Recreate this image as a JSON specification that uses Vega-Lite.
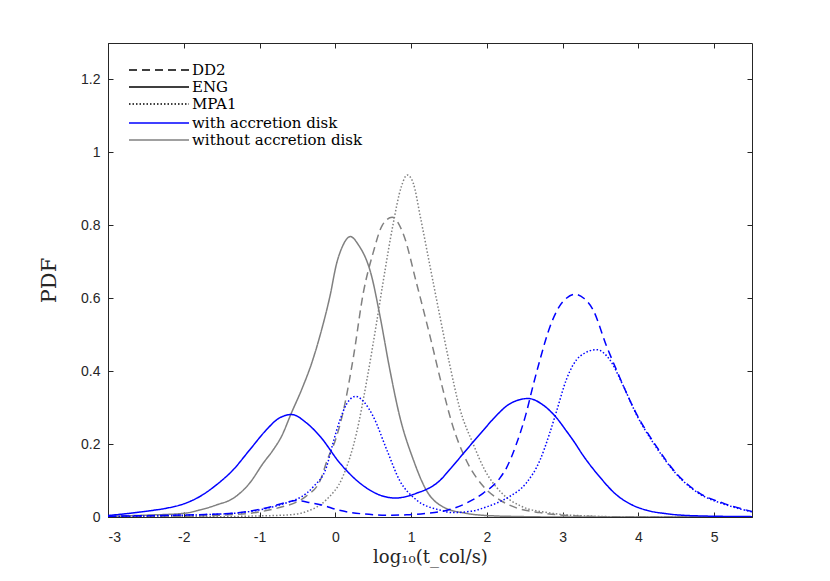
{
  "$schema": "https://vega.github.io/schema/vega-lite/v6.json",
  "width": 644,
  "height": 474,
  "autosize": "none",
  "padding": {"left": 108, "top": 43, "right": 78, "bottom": 64},
  "background": "white",
  "data": {
    "values": [
      {"x": -3, "y": 0.002, "eos": "ENG", "disk": "without accretion disk"},
      {"x": -2.5, "y": 0.005, "eos": "ENG", "disk": "without accretion disk"},
      {"x": -2.0, "y": 0.010, "eos": "ENG", "disk": "without accretion disk"},
      {"x": -1.79, "y": 0.019, "eos": "ENG", "disk": "without accretion disk"},
      {"x": -1.57, "y": 0.033, "eos": "ENG", "disk": "without accretion disk"},
      {"x": -1.35, "y": 0.051, "eos": "ENG", "disk": "without accretion disk"},
      {"x": -1.13, "y": 0.093, "eos": "ENG", "disk": "without accretion disk"},
      {"x": -0.95, "y": 0.148, "eos": "ENG", "disk": "without accretion disk"},
      {"x": -0.82, "y": 0.184, "eos": "ENG", "disk": "without accretion disk"},
      {"x": -0.71, "y": 0.221, "eos": "ENG", "disk": "without accretion disk"},
      {"x": -0.58, "y": 0.285, "eos": "ENG", "disk": "without accretion disk"},
      {"x": -0.445, "y": 0.349, "eos": "ENG", "disk": "without accretion disk"},
      {"x": -0.31, "y": 0.423, "eos": "ENG", "disk": "without accretion disk"},
      {"x": -0.18, "y": 0.514, "eos": "ENG", "disk": "without accretion disk"},
      {"x": -0.07, "y": 0.606, "eos": "ENG", "disk": "without accretion disk"},
      {"x": 0.017, "y": 0.695, "eos": "ENG", "disk": "without accretion disk"},
      {"x": 0.09, "y": 0.740, "eos": "ENG", "disk": "without accretion disk"},
      {"x": 0.2, "y": 0.769, "eos": "ENG", "disk": "without accretion disk"},
      {"x": 0.3, "y": 0.748, "eos": "ENG", "disk": "without accretion disk"},
      {"x": 0.48, "y": 0.66, "eos": "ENG", "disk": "without accretion disk"},
      {"x": 0.59, "y": 0.551, "eos": "ENG", "disk": "without accretion disk"},
      {"x": 0.72, "y": 0.404, "eos": "ENG", "disk": "without accretion disk"},
      {"x": 0.85, "y": 0.276, "eos": "ENG", "disk": "without accretion disk"},
      {"x": 1.03, "y": 0.157, "eos": "ENG", "disk": "without accretion disk"},
      {"x": 1.2, "y": 0.074, "eos": "ENG", "disk": "without accretion disk"},
      {"x": 1.42, "y": 0.028, "eos": "ENG", "disk": "without accretion disk"},
      {"x": 1.73, "y": 0.010, "eos": "ENG", "disk": "without accretion disk"},
      {"x": 2.0, "y": 0.004, "eos": "ENG", "disk": "without accretion disk"},
      {"x": 2.5, "y": 0.001, "eos": "ENG", "disk": "without accretion disk"},
      {"x": 3.0, "y": 0.0, "eos": "ENG", "disk": "without accretion disk"},
      {"x": 5.5, "y": 0.0, "eos": "ENG", "disk": "without accretion disk"},

      {"x": -3, "y": 0.0005, "eos": "DD2", "disk": "without accretion disk"},
      {"x": -2.0, "y": 0.002, "eos": "DD2", "disk": "without accretion disk"},
      {"x": -1.5, "y": 0.005, "eos": "DD2", "disk": "without accretion disk"},
      {"x": -1.0, "y": 0.014, "eos": "DD2", "disk": "without accretion disk"},
      {"x": -0.7, "y": 0.028, "eos": "DD2", "disk": "without accretion disk"},
      {"x": -0.5, "y": 0.042, "eos": "DD2", "disk": "without accretion disk"},
      {"x": -0.38, "y": 0.058, "eos": "DD2", "disk": "without accretion disk"},
      {"x": -0.2, "y": 0.10, "eos": "DD2", "disk": "without accretion disk"},
      {"x": -0.1, "y": 0.16, "eos": "DD2", "disk": "without accretion disk"},
      {"x": 0.0, "y": 0.21, "eos": "DD2", "disk": "without accretion disk"},
      {"x": 0.1, "y": 0.285, "eos": "DD2", "disk": "without accretion disk"},
      {"x": 0.24, "y": 0.44, "eos": "DD2", "disk": "without accretion disk"},
      {"x": 0.37, "y": 0.615, "eos": "DD2", "disk": "without accretion disk"},
      {"x": 0.5, "y": 0.725, "eos": "DD2", "disk": "without accretion disk"},
      {"x": 0.62, "y": 0.8, "eos": "DD2", "disk": "without accretion disk"},
      {"x": 0.75, "y": 0.822, "eos": "DD2", "disk": "without accretion disk"},
      {"x": 0.9, "y": 0.775, "eos": "DD2", "disk": "without accretion disk"},
      {"x": 1.07, "y": 0.643, "eos": "DD2", "disk": "without accretion disk"},
      {"x": 1.25, "y": 0.496, "eos": "DD2", "disk": "without accretion disk"},
      {"x": 1.42, "y": 0.35, "eos": "DD2", "disk": "without accretion disk"},
      {"x": 1.55, "y": 0.25, "eos": "DD2", "disk": "without accretion disk"},
      {"x": 1.73, "y": 0.155, "eos": "DD2", "disk": "without accretion disk"},
      {"x": 1.95, "y": 0.085, "eos": "DD2", "disk": "without accretion disk"},
      {"x": 2.17, "y": 0.047, "eos": "DD2", "disk": "without accretion disk"},
      {"x": 2.39, "y": 0.025, "eos": "DD2", "disk": "without accretion disk"},
      {"x": 2.7, "y": 0.012, "eos": "DD2", "disk": "without accretion disk"},
      {"x": 3.0, "y": 0.005, "eos": "DD2", "disk": "without accretion disk"},
      {"x": 3.5, "y": 0.001, "eos": "DD2", "disk": "without accretion disk"},
      {"x": 4.0, "y": 0.0, "eos": "DD2", "disk": "without accretion disk"},
      {"x": 5.5, "y": 0.0, "eos": "DD2", "disk": "without accretion disk"},

      {"x": -3, "y": 0.0, "eos": "MPA1", "disk": "without accretion disk"},
      {"x": -1.5, "y": 0.001, "eos": "MPA1", "disk": "without accretion disk"},
      {"x": -1.0, "y": 0.003, "eos": "MPA1", "disk": "without accretion disk"},
      {"x": -0.6, "y": 0.006, "eos": "MPA1", "disk": "without accretion disk"},
      {"x": -0.38, "y": 0.015, "eos": "MPA1", "disk": "without accretion disk"},
      {"x": -0.12, "y": 0.047, "eos": "MPA1", "disk": "without accretion disk"},
      {"x": 0.1, "y": 0.111, "eos": "MPA1", "disk": "without accretion disk"},
      {"x": 0.28, "y": 0.23, "eos": "MPA1", "disk": "without accretion disk"},
      {"x": 0.41, "y": 0.368, "eos": "MPA1", "disk": "without accretion disk"},
      {"x": 0.545, "y": 0.533, "eos": "MPA1", "disk": "without accretion disk"},
      {"x": 0.63, "y": 0.643, "eos": "MPA1", "disk": "without accretion disk"},
      {"x": 0.76, "y": 0.80, "eos": "MPA1", "disk": "without accretion disk"},
      {"x": 0.87, "y": 0.905, "eos": "MPA1", "disk": "without accretion disk"},
      {"x": 0.95, "y": 0.938, "eos": "MPA1", "disk": "without accretion disk"},
      {"x": 1.03, "y": 0.915, "eos": "MPA1", "disk": "without accretion disk"},
      {"x": 1.12, "y": 0.826, "eos": "MPA1", "disk": "without accretion disk"},
      {"x": 1.25, "y": 0.688, "eos": "MPA1", "disk": "without accretion disk"},
      {"x": 1.38, "y": 0.551, "eos": "MPA1", "disk": "without accretion disk"},
      {"x": 1.51, "y": 0.418, "eos": "MPA1", "disk": "without accretion disk"},
      {"x": 1.64, "y": 0.30, "eos": "MPA1", "disk": "without accretion disk"},
      {"x": 1.82, "y": 0.20, "eos": "MPA1", "disk": "without accretion disk"},
      {"x": 1.97, "y": 0.13, "eos": "MPA1", "disk": "without accretion disk"},
      {"x": 2.2, "y": 0.065, "eos": "MPA1", "disk": "without accretion disk"},
      {"x": 2.45, "y": 0.03, "eos": "MPA1", "disk": "without accretion disk"},
      {"x": 2.8, "y": 0.012, "eos": "MPA1", "disk": "without accretion disk"},
      {"x": 3.3, "y": 0.003, "eos": "MPA1", "disk": "without accretion disk"},
      {"x": 4.0, "y": 0.0, "eos": "MPA1", "disk": "without accretion disk"},
      {"x": 5.5, "y": 0.0, "eos": "MPA1", "disk": "without accretion disk"},

      {"x": -3, "y": 0.004, "eos": "ENG", "disk": "with accretion disk"},
      {"x": -2.45, "y": 0.017, "eos": "ENG", "disk": "with accretion disk"},
      {"x": -2.23, "y": 0.024, "eos": "ENG", "disk": "with accretion disk"},
      {"x": -2.0, "y": 0.036, "eos": "ENG", "disk": "with accretion disk"},
      {"x": -1.79, "y": 0.056, "eos": "ENG", "disk": "with accretion disk"},
      {"x": -1.57, "y": 0.088, "eos": "ENG", "disk": "with accretion disk"},
      {"x": -1.35, "y": 0.129, "eos": "ENG", "disk": "with accretion disk"},
      {"x": -1.13, "y": 0.184, "eos": "ENG", "disk": "with accretion disk"},
      {"x": -0.91, "y": 0.239, "eos": "ENG", "disk": "with accretion disk"},
      {"x": -0.75, "y": 0.27, "eos": "ENG", "disk": "with accretion disk"},
      {"x": -0.577, "y": 0.281, "eos": "ENG", "disk": "with accretion disk"},
      {"x": -0.38, "y": 0.258, "eos": "ENG", "disk": "with accretion disk"},
      {"x": -0.2, "y": 0.221, "eos": "ENG", "disk": "with accretion disk"},
      {"x": 0.06, "y": 0.148, "eos": "ENG", "disk": "with accretion disk"},
      {"x": 0.325, "y": 0.093, "eos": "ENG", "disk": "with accretion disk"},
      {"x": 0.59, "y": 0.06, "eos": "ENG", "disk": "with accretion disk"},
      {"x": 0.79, "y": 0.052, "eos": "ENG", "disk": "with accretion disk"},
      {"x": 1.07, "y": 0.065, "eos": "ENG", "disk": "with accretion disk"},
      {"x": 1.38, "y": 0.10, "eos": "ENG", "disk": "with accretion disk"},
      {"x": 1.51, "y": 0.13, "eos": "ENG", "disk": "with accretion disk"},
      {"x": 1.73, "y": 0.184, "eos": "ENG", "disk": "with accretion disk"},
      {"x": 1.95, "y": 0.237, "eos": "ENG", "disk": "with accretion disk"},
      {"x": 2.08, "y": 0.268, "eos": "ENG", "disk": "with accretion disk"},
      {"x": 2.3, "y": 0.31, "eos": "ENG", "disk": "with accretion disk"},
      {"x": 2.42, "y": 0.321, "eos": "ENG", "disk": "with accretion disk"},
      {"x": 2.545, "y": 0.325, "eos": "ENG", "disk": "with accretion disk"},
      {"x": 2.75, "y": 0.306, "eos": "ENG", "disk": "with accretion disk"},
      {"x": 2.92, "y": 0.272, "eos": "ENG", "disk": "with accretion disk"},
      {"x": 3.05, "y": 0.236, "eos": "ENG", "disk": "with accretion disk"},
      {"x": 3.15, "y": 0.207, "eos": "ENG", "disk": "with accretion disk"},
      {"x": 3.27, "y": 0.169, "eos": "ENG", "disk": "with accretion disk"},
      {"x": 3.49, "y": 0.110, "eos": "ENG", "disk": "with accretion disk"},
      {"x": 3.71, "y": 0.061, "eos": "ENG", "disk": "with accretion disk"},
      {"x": 3.89, "y": 0.036, "eos": "ENG", "disk": "with accretion disk"},
      {"x": 4.1, "y": 0.019, "eos": "ENG", "disk": "with accretion disk"},
      {"x": 4.37, "y": 0.009, "eos": "ENG", "disk": "with accretion disk"},
      {"x": 4.8, "y": 0.003, "eos": "ENG", "disk": "with accretion disk"},
      {"x": 5.5, "y": 0.001, "eos": "ENG", "disk": "with accretion disk"},

      {"x": -3, "y": 0.002, "eos": "DD2", "disk": "with accretion disk"},
      {"x": -2.15, "y": 0.005, "eos": "DD2", "disk": "with accretion disk"},
      {"x": -1.72, "y": 0.007, "eos": "DD2", "disk": "with accretion disk"},
      {"x": -1.28, "y": 0.012, "eos": "DD2", "disk": "with accretion disk"},
      {"x": -0.85, "y": 0.028, "eos": "DD2", "disk": "with accretion disk"},
      {"x": -0.65, "y": 0.04, "eos": "DD2", "disk": "with accretion disk"},
      {"x": -0.51, "y": 0.045, "eos": "DD2", "disk": "with accretion disk"},
      {"x": -0.35, "y": 0.04, "eos": "DD2", "disk": "with accretion disk"},
      {"x": -0.18, "y": 0.033, "eos": "DD2", "disk": "with accretion disk"},
      {"x": 0.04, "y": 0.019, "eos": "DD2", "disk": "with accretion disk"},
      {"x": 0.39, "y": 0.008, "eos": "DD2", "disk": "with accretion disk"},
      {"x": 0.7, "y": 0.005, "eos": "DD2", "disk": "with accretion disk"},
      {"x": 0.94, "y": 0.006, "eos": "DD2", "disk": "with accretion disk"},
      {"x": 1.2, "y": 0.01, "eos": "DD2", "disk": "with accretion disk"},
      {"x": 1.45, "y": 0.017, "eos": "DD2", "disk": "with accretion disk"},
      {"x": 1.73, "y": 0.038, "eos": "DD2", "disk": "with accretion disk"},
      {"x": 1.95, "y": 0.065, "eos": "DD2", "disk": "with accretion disk"},
      {"x": 2.17, "y": 0.106, "eos": "DD2", "disk": "with accretion disk"},
      {"x": 2.26, "y": 0.135, "eos": "DD2", "disk": "with accretion disk"},
      {"x": 2.39, "y": 0.2, "eos": "DD2", "disk": "with accretion disk"},
      {"x": 2.52, "y": 0.285, "eos": "DD2", "disk": "with accretion disk"},
      {"x": 2.61, "y": 0.36, "eos": "DD2", "disk": "with accretion disk"},
      {"x": 2.7, "y": 0.43, "eos": "DD2", "disk": "with accretion disk"},
      {"x": 2.83, "y": 0.52, "eos": "DD2", "disk": "with accretion disk"},
      {"x": 2.95, "y": 0.575, "eos": "DD2", "disk": "with accretion disk"},
      {"x": 3.05, "y": 0.6, "eos": "DD2", "disk": "with accretion disk"},
      {"x": 3.16, "y": 0.611, "eos": "DD2", "disk": "with accretion disk"},
      {"x": 3.28, "y": 0.6, "eos": "DD2", "disk": "with accretion disk"},
      {"x": 3.4, "y": 0.569, "eos": "DD2", "disk": "with accretion disk"},
      {"x": 3.58, "y": 0.469, "eos": "DD2", "disk": "with accretion disk"},
      {"x": 3.71, "y": 0.404, "eos": "DD2", "disk": "with accretion disk"},
      {"x": 3.97, "y": 0.285, "eos": "DD2", "disk": "with accretion disk"},
      {"x": 4.24, "y": 0.193, "eos": "DD2", "disk": "with accretion disk"},
      {"x": 4.5, "y": 0.12, "eos": "DD2", "disk": "with accretion disk"},
      {"x": 4.81, "y": 0.065, "eos": "DD2", "disk": "with accretion disk"},
      {"x": 5.12, "y": 0.038, "eos": "DD2", "disk": "with accretion disk"},
      {"x": 5.5, "y": 0.015, "eos": "DD2", "disk": "with accretion disk"},

      {"x": -3, "y": 0.001, "eos": "MPA1", "disk": "with accretion disk"},
      {"x": -2.2, "y": 0.004, "eos": "MPA1", "disk": "with accretion disk"},
      {"x": -1.35, "y": 0.010, "eos": "MPA1", "disk": "with accretion disk"},
      {"x": -0.82, "y": 0.028, "eos": "MPA1", "disk": "with accretion disk"},
      {"x": -0.6, "y": 0.042, "eos": "MPA1", "disk": "with accretion disk"},
      {"x": -0.45, "y": 0.055, "eos": "MPA1", "disk": "with accretion disk"},
      {"x": -0.29, "y": 0.083, "eos": "MPA1", "disk": "with accretion disk"},
      {"x": -0.115, "y": 0.138, "eos": "MPA1", "disk": "with accretion disk"},
      {"x": -0.03, "y": 0.203, "eos": "MPA1", "disk": "with accretion disk"},
      {"x": 0.06, "y": 0.265, "eos": "MPA1", "disk": "with accretion disk"},
      {"x": 0.15, "y": 0.31, "eos": "MPA1", "disk": "with accretion disk"},
      {"x": 0.27, "y": 0.331, "eos": "MPA1", "disk": "with accretion disk"},
      {"x": 0.38, "y": 0.315, "eos": "MPA1", "disk": "with accretion disk"},
      {"x": 0.5, "y": 0.276, "eos": "MPA1", "disk": "with accretion disk"},
      {"x": 0.68, "y": 0.184, "eos": "MPA1", "disk": "with accretion disk"},
      {"x": 0.85, "y": 0.10, "eos": "MPA1", "disk": "with accretion disk"},
      {"x": 1.07, "y": 0.047, "eos": "MPA1", "disk": "with accretion disk"},
      {"x": 1.38, "y": 0.019, "eos": "MPA1", "disk": "with accretion disk"},
      {"x": 1.55, "y": 0.012, "eos": "MPA1", "disk": "with accretion disk"},
      {"x": 1.8, "y": 0.016, "eos": "MPA1", "disk": "with accretion disk"},
      {"x": 2.0, "y": 0.028, "eos": "MPA1", "disk": "with accretion disk"},
      {"x": 2.17, "y": 0.042, "eos": "MPA1", "disk": "with accretion disk"},
      {"x": 2.3, "y": 0.056, "eos": "MPA1", "disk": "with accretion disk"},
      {"x": 2.52, "y": 0.093, "eos": "MPA1", "disk": "with accretion disk"},
      {"x": 2.7, "y": 0.155, "eos": "MPA1", "disk": "with accretion disk"},
      {"x": 2.83, "y": 0.23, "eos": "MPA1", "disk": "with accretion disk"},
      {"x": 2.92, "y": 0.29, "eos": "MPA1", "disk": "with accretion disk"},
      {"x": 3.05, "y": 0.377, "eos": "MPA1", "disk": "with accretion disk"},
      {"x": 3.23, "y": 0.441, "eos": "MPA1", "disk": "with accretion disk"},
      {"x": 3.45, "y": 0.459, "eos": "MPA1", "disk": "with accretion disk"},
      {"x": 3.62, "y": 0.432, "eos": "MPA1", "disk": "with accretion disk"},
      {"x": 3.8, "y": 0.36, "eos": "MPA1", "disk": "with accretion disk"},
      {"x": 3.97, "y": 0.283, "eos": "MPA1", "disk": "with accretion disk"},
      {"x": 4.24, "y": 0.19, "eos": "MPA1", "disk": "with accretion disk"},
      {"x": 4.5, "y": 0.118, "eos": "MPA1", "disk": "with accretion disk"},
      {"x": 4.81, "y": 0.063, "eos": "MPA1", "disk": "with accretion disk"},
      {"x": 5.12, "y": 0.036, "eos": "MPA1", "disk": "with accretion disk"},
      {"x": 5.5, "y": 0.014, "eos": "MPA1", "disk": "with accretion disk"}
    ]
  },
  "layer": [
    {
      "mark": {"type": "line", "strokeWidth": 1.5, "interpolate": "monotone", "clip": true},
      "encoding": {
        "x": {
          "field": "x", "type": "quantitative",
          "scale": {"domain": [-3, 5.5], "nice": false, "zero": false},
          "axis": {"values": [-3, -2, -1, 0, 1, 2, 3, 4, 5], "labelExpr": "replace(datum.label, '−', '-')", "title": "log₁₀(t_col/s)", "labelPadding": 18, "titlePadding": 4}
        },
        "y": {
          "field": "y", "type": "quantitative",
          "scale": {"domain": [0, 1.3], "nice": false},
          "axis": {"values": [0, 0.2, 0.4, 0.6, 0.8, 1, 1.2], "format": ".1~f", "title": "PDF", "labelPadding": 13, "titlePadding": 21, "titleFontSize": 21}
        },
        "color": {
          "field": "disk", "type": "nominal",
          "scale": {"domain": ["with accretion disk", "without accretion disk"], "range": ["#0000ff", "#808080"]},
          "legend": {"orient": "none", "legendX": 42, "legendY": 71, "title": null}
        },
        "strokeDash": {
          "field": "eos", "type": "nominal",
          "scale": {"domain": ["DD2", "ENG", "MPA1"], "range": [[8, 5], [1, 0], [1.5, 2]]},
          "legend": {"orient": "none", "legendX": 42, "legendY": 18, "title": null, "symbolStrokeColor": "black"}
        }
      }
    },
    {
      "mark": {"type": "point", "opacity": 0},
      "encoding": {
        "x": {"field": "x", "type": "quantitative", "axis": {"orient": "top", "values": [-3, -2, -1, 0, 1, 2, 3, 4, 5], "labels": false, "title": null, "domain": false}},
        "y": {"field": "y", "type": "quantitative", "axis": {"orient": "right", "values": [0, 0.2, 0.4, 0.6, 0.8, 1, 1.2], "labels": false, "title": null, "domain": false}}
      }
    }
  ],
  "resolve": {"axis": {"x": "independent", "y": "independent"}},
  "config": {
    "view": {"stroke": "#262626", "strokeWidth": 1},
    "axis": {
      "grid": false,
      "domainColor": "#262626",
      "tickColor": "#262626",
      "tickSize": -5,
      "labelColor": "#262626",
      "labelFont": "Liberation Sans",
      "labelFontSize": 14,
      "titleFont": "DejaVu Serif",
      "titleFontSize": 18,
      "titleFontWeight": "normal",
      "titleColor": "#262626"
    },
    "legend": {
      "padding": 0,
      "labelFont": "DejaVu Serif",
      "labelFontSize": 15,
      "labelColor": "#000000",
      "labelLimit": 300,
      "symbolType": "M-3.75,0H3.75",
      "symbolSize": 256,
      "symbolStrokeWidth": 1.5,
      "labelOffset": 24,
      "rowPadding": 0
    }
  }
}
